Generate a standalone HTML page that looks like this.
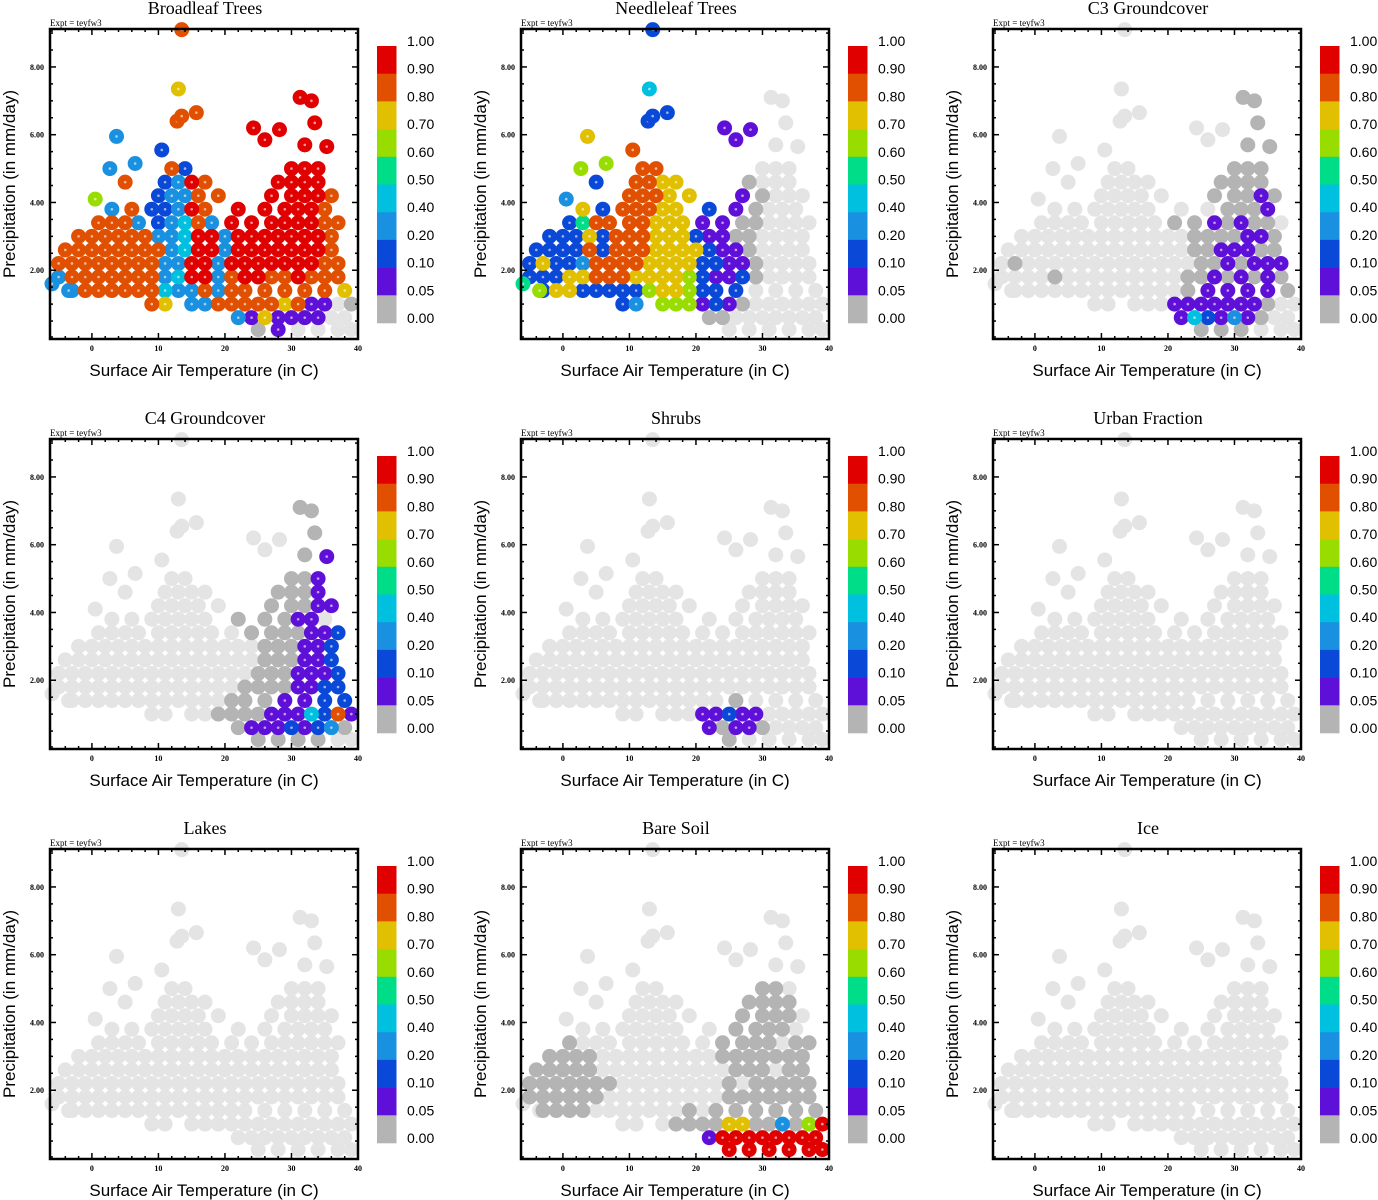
<!DOCTYPE html>
<html><head><meta charset="utf-8">
<style>
html,body{margin:0;padding:0;background:#fff;}
svg{display:block;}
</style></head>
<body>
<svg id="chart" width="1378" height="1200" viewBox="0 0 1378 1200" xmlns="http://www.w3.org/2000/svg"></svg>
<script>
// ---- data ----
const panelTitles = ["Broadleaf Trees","Needleleaf Trees","C3 Groundcover","C4 Groundcover","Shrubs","Urban Fraction","Lakes","Bare Soil","Ice"];
const rowPrecip = [0.25,0.6,1.0,1.4,1.8,2.2,2.6,3.0,3.4,3.8,4.2,4.6,5.0];
const rowTemps = [
 [25,28,31,34,37,39],
 [22,24,26,28,30,32,34,36,38],
 [9,11,15,17,19,21,23,25,27,29,31,33,35,37,39],
 [-3,-1,1,3,5,7,9,11,13,15,17,19,21,23,26,29,32,35,38],
 [-5,-3,-1,1,3,5,7,9,11,13,15,17,19,21,23,25,27,29,31,33,35,37],
 [-5,-3,-1,1,3,5,7,9,11,13,15,17,19,21,23,25,27,29,31,33,35,37],
 [-4,-2,0,2,4,6,8,10,12,14,16,18,20,22,24,26,28,30,32,34,36],
 [-2,0,2,4,6,8,10,12,14,16,18,20,22,24,26,28,30,32,34,36],
 [1,3,5,7,10,12,14,16,18,21,24,27,29,31,33,35,37],
 [3,6,9,11,13,15,17,22,26,29,31,33,35],
 [10,12,14,16,19,27,30,32,34,36],
 [5,11,13,15,17,28,30,32,34],
 [12,14,30,32,34]
];
const outlierTemps = [13,3.7,2.7,6.5,10.5,12.8,13.5,15.7,24.3,26,28.2,31.3,33,33.5,35.3,32,0.5,13.5,-6,-3.5];
const outlierPrecip = [7.35,5.95,5.0,5.15,5.55,6.4,6.55,6.65,6.2,5.85,6.15,7.1,7.0,6.35,5.65,5.7,4.1,9.1,1.6,1.4];
// class codes per point: '.' = not present, '0'..'9' index into fracLevels
const fracLevels = [0,0.05,0.1,0.2,0.4,0.5,0.6,0.7,0.8,0.9];
const broadleafCodes = ["01....","3171111..","8733888887811.0","3888888433838888887","3888888834993899889888","8888888833993999999988","888888883499399999998","88888833499399999998","88832348399999988","3822398999998","2338899998","823989999","82999","73332888999999996833"];
const needleleafCodes = ["......","00.......","236661210......","277222226776222....","222778887777621120....","272238888777722110....","22228288877772110....","2227288877721100....","2588887771100....","7288877210...","8887710...","288770...","88...","47668222111.....3256"];
const c3Codes = ["000...","1421310..",".....11111110..",".............011110","....0.........00101010",".0.............0010111","..............0011100",".............0000110",".........0010100",".........00010",".....00010",".....0000","..000","...........00000...."];
const c4Codes = ["0000..","011121230","....00001114281","............0001122","..............00001122","...............0001112","...............000112","..............000112","..........0000112",".......00011",".....00011",".....0001","..001","...........00010...."];
const shrubCodes = ["0.....","10110....",".....11211.....","..............0....",null,null,null,null,null,null,null,null,null,null];
const bareSoilCodes = ["999999","199999999","...000077003069","0000.......0.000000","000000.........0000000","0000000........0.00000","00000..........000.00","0000.........0000000","0.........0000.00","........0000.",".....0000.",".....0000","..00.",null];
const panelCodes = [broadleafCodes, needleleafCodes, c3Codes, c4Codes, shrubCodes, null, null, bareSoilCodes, null];
const tickX = [0,10,20,30,40];
const tickY = [2,4,6,8];
const tickYLabels = ["2.00","4.00","6.00","8.00"];
const cbarLabels = ["1.00","0.90","0.80","0.70","0.60","0.50","0.40","0.20","0.10","0.05","0.00"];
</script>
<script>
const classColors = ["#b4b4b4","#5f10d8","#0a48d8","#1a90e0","#00c0e0","#00dd88","#99dd00","#e0c000","#e05000","#e00000"];
const cbarColors = ["#e00000","#e05000","#e0c000","#99dd00","#00dd88","#00c0e0","#1a90e0","#0a48d8","#5f10d8","#b4b4b4"];
const NS = "http://www.w3.org/2000/svg";
const svg = document.getElementById("chart");
const px0 = [50,521,993], py0 = [29,439,849];
const W = 308, H = 310;
const xmin = -6.3, xmax = 40, ymin = -0.03, ymax = 9.12;
function mk(tag, attrs, parent){ const e = document.createElementNS(NS, tag); for (const k in attrs) e.setAttribute(k, attrs[k]); parent.appendChild(e); return e; }

for (let p = 0; p < 9; p++) {
  const ox = px0[p % 3], oy = py0[Math.floor(p / 3)];
  const xs = t => ox + (t - xmin) / (xmax - xmin) * W;
  const ys = v => oy + H - (v - ymin) / (ymax - ymin) * H;
  const g = mk("g", {}, svg);
  
  

  const title = mk("text", {x: ox + 155, y: oy - 15, "text-anchor": "middle", "font-family": "Liberation Serif, serif", "font-size": 18}, g);
  title.textContent = panelTitles[p];
  
  
  const ex = mk("text", {x: ox, y: oy - 3, "font-family": "Liberation Serif, serif", "font-size": 9}, g);
  ex.textContent = "Expt = teyfw3";
  
  

  const codes = panelCodes[p];
  const pts = [];
  for (let r = 0; r < rowTemps.length; r++) {
    const s = codes && codes[r] ? codes[r] : null;
    for (let i = 0; i < rowTemps[r].length; i++) {
      const c = s && s[i] && s[i] !== '.' ? parseInt(s[i]) : -1;
      pts.push([rowTemps[r][i], rowPrecip[r], c]);
    }
  }
  const so = codes && codes[13] ? codes[13] : null;
  for (let i = 0; i < outlierTemps.length; i++) {
    const c = so && so[i] && so[i] !== '.' ? parseInt(so[i]) : -1;
    pts.push([outlierTemps[i], outlierPrecip[i], c]);
  }
  pts.sort((a, b) => a[2] - b[2]);
  const pg = mk("g", {}, g);
  
  
  for (const pt of pts) {
    const col = pt[2] < 0 ? "#e4e4e4" : classColors[pt[2]];
    const c = mk("circle", {cx: xs(pt[0]), cy: ys(pt[1]), r: 7.5, fill: col}, pg);
    
    
    if (pt[2] > 0) mk("circle", {cx: xs(pt[0]), cy: ys(pt[1]), r: 1.3, fill: "#fff", "fill-opacity": 0.6}, pg);
  }

  const box = mk("rect", {x: ox, y: oy, width: W, height: H, fill: "none", stroke: "#000", "stroke-width": 2.5}, g);
  
  
  for (let t = -6; t <= 40; t += 2) {
    const major = t % 10 === 0; const L = major ? 6 : 3; const x = xs(t);
    mk("line", {x1: x, y1: oy + H, x2: x, y2: oy + H - L, stroke: "#000", "stroke-width": 1.5}, g);
    mk("line", {x1: x, y1: oy, x2: x, y2: oy + L, stroke: "#000", "stroke-width": 1.5}, g);
  }
  for (const t of tickX) {
    const tl = mk("text", {x: xs(t), y: oy + H + 12, "text-anchor": "middle", "font-family": "Liberation Serif, serif", "font-size": 8, "font-weight": "bold"}, g);
    tl.textContent = t;
    
    
  }
  for (let v = 0.5; v <= 9; v += 0.5) {
    const major = v % 2 === 0; const L = major ? 6 : 3; const y = ys(v);
    mk("line", {x1: ox, y1: y, x2: ox + L, y2: y, stroke: "#000", "stroke-width": 1.5}, g);
    mk("line", {x1: ox + W, y1: y, x2: ox + W - L, y2: y, stroke: "#000", "stroke-width": 1.5}, g);
  }
  tickY.forEach((v, i) => {
    const tl = mk("text", {x: ox - 6, y: ys(v) + 3, "text-anchor": "end", "font-family": "Liberation Serif, serif", "font-size": 8, "font-weight": "bold"}, g);
    tl.textContent = tickYLabels[i];
    
    
  });
  const xt = mk("text", {x: ox + 154, y: oy + H + 37, "text-anchor": "middle", "font-family": "Liberation Sans, sans-serif", "font-size": 17}, g);
  xt.textContent = "Surface Air Temperature (in C)";
  
  
  const yt = mk("text", {x: 0, y: 0, "text-anchor": "middle", "font-family": "Liberation Sans, sans-serif", "font-size": 17, transform: "translate(" + (ox - 35) + "," + (oy + 155) + ") rotate(-90)"}, g);
  yt.textContent = "Precipitation (in mm/day)";
  
  

  const cb = mk("g", {}, g);
  
  
  const cbx = ox + 327, cby = oy + 17, seg = 27.7;
  cbarColors.forEach((c, i) => {
    const r = mk("rect", {x: cbx, y: cby + i * seg, width: 19.5, height: seg + 0.3, fill: c}, cb);
    
    
  });
  cbarLabels.forEach((s, i) => {
    const t = mk("text", {x: cbx + 30, y: cby + i * seg, "font-family": "Liberation Sans, sans-serif", "font-size": 14}, cb);
    t.textContent = s;
    
    
  });
}
</script>
</body></html>
